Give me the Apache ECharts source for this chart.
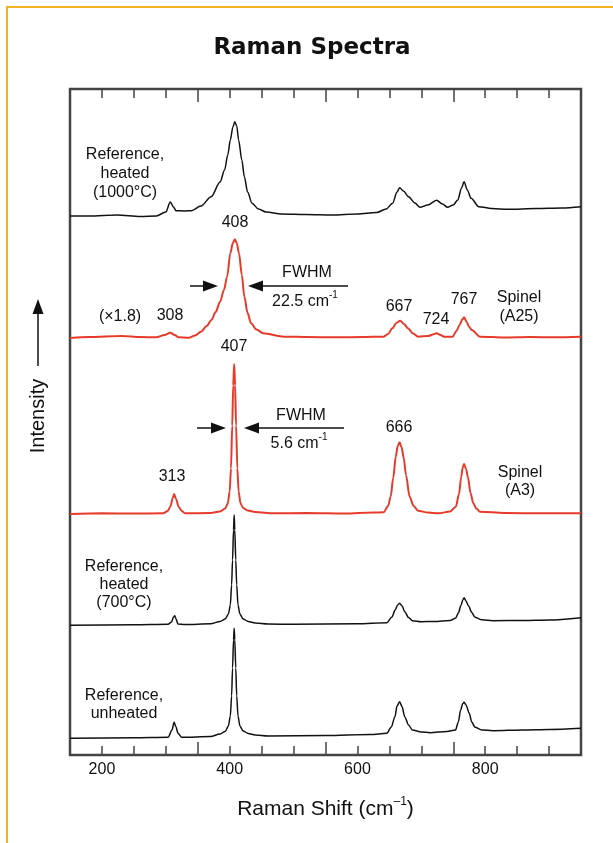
<!DOCTYPE html>
<html>
<head>
<meta charset="utf-8">
<title>Raman Spectra</title>
<script src="https://cdn.jsdelivr.net/npm/echarts@6/dist/echarts.min.js"></script>
<style>
html, body { margin: 0; padding: 0; background: #fff; }
#main { width: 613px; height: 843px; }
</style>
</head>
<body>
<div id="main"></div>
<script>
// spectra: [Raman shift (cm-1), intensity above the trace baseline]
var heated1000 = [
    [150, 0], [180, 0], [224, 1], [260, -0.5], [285, 0], [300, 4], [307, 14], [312, 9],
    [316, 5.3], [330, 5], [340, 5.3], [355, 10], [371, 19.3], [385, 34], [392, 46],
    [397, 61], [401, 76], [405, 89], [408, 94.3], [411, 90], [414, 76], [419, 56],
    [423, 39.3], [428, 24], [435, 12.7], [445, 7], [457, 4], [481, 2], [520, 1.5],
    [560, 1], [600, 2], [630, 3.5], [645, 7], [655, 12.7], [662, 24], [666, 28.3],
    [672, 25], [680, 19.3], [690, 13], [698, 8.7], [710, 11], [724, 15.7], [733, 12],
    [741, 8.7], [750, 11], [757, 16], [763, 28], [767, 34.3], [772, 26], [778, 17.7],
    [790, 9.3], [810, 7.5], [836, 6.7], [880, 7.5], [920, 8], [950, 9.3]
];
var spinelA25 = [
    [150, -0.5], [180, 0.5], [231, 1.5], [260, 0.5], [285, 0.2], [298, 2.5], [307, 4.8],
    [314, 2.5], [320, 0.2], [336, -0.2], [346, 2], [355, 5.8], [364, 11.5], [371.5, 17.5],
    [378, 25.5], [385, 35.8], [391, 47.5], [396, 60.8], [401, 84.2], [405, 94.5],
    [408, 98.2], [411, 94.5], [414.6, 84.2], [419, 62.5], [423, 40.8], [428, 24.5],
    [433.5, 14.2], [442, 8], [452.5, 4.2], [485, 0.8], [520, 0.5], [565, 0.2], [610, 0.5],
    [641, 0.8], [648, 3.5], [654.6, 9.2], [661, 14.5], [667, 16.8], [673, 13.5],
    [679, 9.2], [687, 4], [695, 0.8], [711, 1.5], [718, 3], [724, 4.2], [730, 2.5],
    [736, 0.8], [749, 0.8], [755, 6.5], [760, 12.5], [764, 18], [767, 20.2], [771, 15.5],
    [775, 10.5], [779, 7.5], [792, 0.8], [830, 0], [870, 0.5], [910, 0.2], [950, 0.8]
];
var spinelA3 = [
    [150, -0.5], [200, 0.2], [250, 0], [296, 0.2], [303, 2.5], [307, 6.8], [311, 15.5],
    [313, 19.5], [316, 14.5], [320, 6.8], [325, 2.5], [330, 0.2], [370, 0.5], [385, 2],
    [393, 5], [397, 10], [400, 22], [402, 45], [404, 88], [405.5, 128], [407, 149.5],
    [408.5, 128], [410, 88], [412, 45], [414, 22], [417, 10], [421, 5.5], [428, 3],
    [440, 1.5], [469, 0.2], [520, 0.5], [580, 0], [625, 1], [641, 1.2],
    [648, 7.5], [652, 16.8], [656, 35.5], [660, 56.8], [663, 67.5], [666, 71.2],
    [669, 66.5], [672.5, 55.5], [676, 38.5], [681.7, 16.8], [688, 7.5], [695, 2.8],
    [710, 1], [727.5, 0.2], [745, 2], [754, 6.8], [759, 19.5], [762.5, 36.8], [765, 46.5],
    [767, 49.5], [770, 44.5], [773, 36.5], [777, 20.5], [781.4, 10.2], [786, 5],
    [792, 1.8], [830, 0.5], [890, 0.2], [950, 0.2]
];
var heated700 = [
    [150, -0.3], [250, 0.2], [303.5, 0.7], [309, 3], [312, 8], [314, 9.3], [316, 6],
    [319, 1], [330, 0.5], [370, 1.2], [385, 3.5], [393, 6], [398, 11], [401, 20],
    [403, 40], [404.5, 65], [406, 95], [407, 110], [408, 95], [409.5, 65], [411, 40],
    [413, 20], [416, 11], [421, 6], [429, 3.5], [440, 2], [460, 1], [500, 0.7], [600, 1.3],
    [646, 2.3], [654, 8], [659, 15], [663, 20], [666, 21.7], [670, 19], [674, 13.3],
    [680, 7.5], [686, 4.3], [700, 3.3], [720, 3.5], [745, 4.5], [753.5, 6.7], [758, 12],
    [762, 19.5], [765, 25], [767, 27.3], [770, 24], [774, 19], [779, 12.5], [784, 7.7],
    [795, 5.2], [812, 4.3], [860, 4.5], [900, 5], [950, 7.3]
];
var unheated = [
    [150, -0.3], [250, 0.2], [303.5, 0.7], [309.7, 8], [313, 15.7], [316, 11], [319, 4.7],
    [325, 0.7], [370, 1.5], [385, 4], [393, 6.5], [398, 12], [401, 22], [403, 42],
    [404.5, 70], [406, 98], [407, 109.7], [408, 98], [409.5, 70], [411, 42], [413, 22],
    [416, 12], [421, 7], [429, 4.5], [440, 3], [460, 2], [550, 2.5], [620, 3.5],
    [646, 4.7], [653, 11], [658.7, 21.3], [662, 32], [666, 36.3], [670, 31], [674, 21.3],
    [680, 13], [686, 8], [700, 6], [713.6, 5.3], [740, 6.5], [753.5, 8], [758, 16],
    [761.5, 28], [765, 34.5], [767, 35.7], [770, 33], [775, 24.7], [779, 16], [784, 10.7],
    [795, 8], [812, 7.3], [860, 8], [900, 8.5], [950, 9.7]
];
// vertical stacking of the traces (baseline of each trace)
var offsets = [539, 417.5, 241.5, 130, 17];
var xTickLabels = [200, 400, 600, 800];

function stackUp(data, off) {
    return data.map(function (p) { return [p[0], p[1] + off]; });
}

var FONT = '"Liberation Sans", Arial, sans-serif';
var RED = '#e63a2a';

var myChart = echarts.init(document.getElementById('main'));

function label(x, y, text, lh) {
    return {
        type: 'text', x: x, y: y, z: 10,
        style: {
            text: text, x: 0, y: 0, fill: '#111', align: 'center', verticalAlign: 'middle',
            font: '16px ' + FONT, lineHeight: lh || 19
        }
    };
}
function supLabel(x, y, base, sup) {
    return {
        type: 'text', x: x, y: y, z: 10,
        style: {
            text: '{a|' + base + '}{b|' + sup + '}', x: 0, y: 0, align: 'center', verticalAlign: 'middle',
            rich: {
                a: { fontSize: 16, fontFamily: FONT, fill: '#111', lineHeight: 19, verticalAlign: 'bottom' },
                b: { fontSize: 10, fontFamily: FONT, fill: '#111', lineHeight: 19, verticalAlign: 'top' }
            }
        }
    };
}
// horizontal arrow from tail to tip
function arrow(tail, tip, y, head) {
    var dir = tip > tail ? 1 : -1;
    head = head || 15;
    return [
        { type: 'line', z: 10, shape: { x1: tail, y1: y, x2: tip - dir * head, y2: y }, style: { stroke: '#111', lineWidth: 1.5 } },
        { type: 'polygon', z: 10, shape: { points: [[tip, y], [tip - dir * head, y - 5.5], [tip - dir * head, y + 5.5]] }, style: { fill: '#111' } }
    ];
}

var graphics = [
    // frame
    { type: 'line', shape: { x1: 7, y1: 6, x2: 7, y2: 843 }, style: { stroke: '#f0b323', lineWidth: 2 } },
    { type: 'line', shape: { x1: 6, y1: 7, x2: 613, y2: 7 }, style: { stroke: '#f0b323', lineWidth: 2 } },
    // title
    { type: 'text', x: 312, y: 48, style: { text: 'Raman Spectra', x: 0, y: 0, align: 'center', verticalAlign: 'middle', font: 'bold 23px "DejaVu Sans", sans-serif', fill: '#111' } },
    // y label
    { type: 'text', x: 38, y: 416, rotation: Math.PI / 2, style: { text: 'Intensity', x: 0, y: 0, align: 'center', verticalAlign: 'middle', font: '20px ' + FONT, fill: '#111' } },
    { type: 'line', shape: { x1: 38, y1: 366, x2: 38, y2: 313 }, style: { stroke: '#111', lineWidth: 1.5 } },
    { type: 'polygon', shape: { points: [[38, 299], [32.5, 314], [43.5, 314]] }, style: { fill: '#111' } },

    label(125, 174, 'Reference,\nheated\n(1000°C)'),
    label(235, 223, '408'),
    label(307, 273, 'FWHM'),
    supLabel(305, 300, '22.5 cm', '-1'),
    label(120, 317, '(×1.8)'),
    label(170, 316, '308'),
    label(399, 307, '667'),
    label(436, 320, '724'),
    label(464, 300, '767'),
    label(519, 307, 'Spinel\n(A25)'),
    label(234, 347, '407'),
    label(301, 416, 'FWHM'),
    supLabel(299, 442, '5.6 cm', '-1'),
    label(399, 428, '666'),
    label(172, 477, '313'),
    label(520, 481.5, 'Spinel\n(A3)', 18),
    label(124, 585, 'Reference,\nheated\n(700°C)', 18),
    label(124, 704.5, 'Reference,\nunheated', 18)
].concat(arrow(190, 218, 286), arrow(348, 248, 286), arrow(197, 226, 428), arrow(344, 244, 428));

function tickAxis(pos, interval, len, labels) {
    return {
        type: 'value', min: 150, max: 950, interval: interval, position: pos,
        axisLine: { show: false },
        axisTick: { show: true, inside: true, length: len, lineStyle: { color: '#444', width: 1.5 } },
        splitLine: { show: false },
        axisLabel: labels ? {
            show: true, margin: 7, fontSize: 16, fontFamily: FONT, color: '#111',
            formatter: function (v) { return xTickLabels.indexOf(v) >= 0 ? String(v) : ''; }
        } : { show: false }
    };
}

var xAxes = [
    tickAxis('bottom', 50, 9, true),
    tickAxis('top', 50, 9, false),
    tickAxis('bottom', 200, 13, false),
    tickAxis('top', 200, 13, false)
];
xAxes[0].name = '{n|Raman Shift (cm}{s|–1}{n|)}';
xAxes[0].nameLocation = 'middle';
xAxes[0].nameGap = 41;
xAxes[0].nameTextStyle = {
    rich: {
        n: { fontSize: 21, fontFamily: FONT, color: '#111', lineHeight: 24, verticalAlign: 'bottom' },
        s: { fontSize: 12, fontFamily: FONT, color: '#111', lineHeight: 24, verticalAlign: 'top' }
    }
};

var traces = [heated1000, spinelA25, spinelA3, heated700, unheated];
var colors = ['#111', RED, RED, '#111', '#111'];
var widths = [1.5, 2, 2, 1.5, 1.5];
var series = traces.map(function (d, i) {
    return {
        type: 'line', xAxisIndex: 0, data: stackUp(d, offsets[i]),
        showSymbol: false, smooth: 0.3, smoothMonotone: 'x',
        lineStyle: { color: colors[i], width: widths[i] }
    };
});

option = {
    animation: false,
    backgroundColor: '#fff',
    grid: { left: 70, right: 32, top: 89, bottom: 88, show: true, borderColor: '#444', borderWidth: 2.5 },
    xAxis: xAxes,
    yAxis: { type: 'value', min: 0, max: 666, show: false },
    series: series,
    graphic: graphics
};
myChart.setOption(option);
</script>
</body>
</html>
